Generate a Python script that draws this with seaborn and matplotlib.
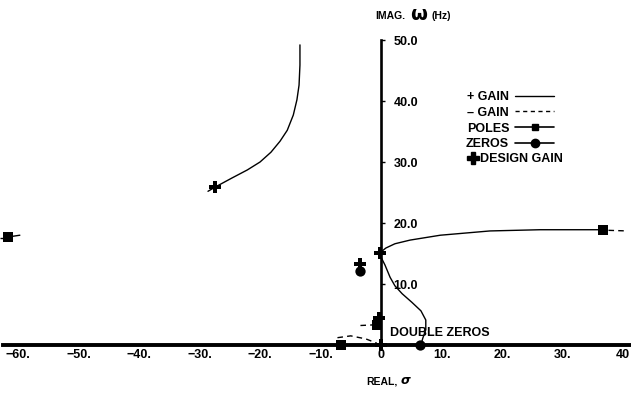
import matplotlib
matplotlib.use("Agg")
import matplotlib.pyplot as plt
import seaborn as sns
from matplotlib.lines import Line2D
from matplotlib.font_manager import FontProperties

# Root-locus branches: real part sigma, imaginary part omega (Hz)
upper_sigma = [-13.4, -13.4, -13.55, -13.9, -14.5, -15.5, -16.7, -18.2, -20.0,
               -22.1, -24.6, -27.4, -28.6]
upper_omega = [49.2, 45.9, 42.6, 40.2, 37.7, 35.2, 33.4, 31.6, 30.0,
               28.7, 27.4, 25.9, 25.2]

right_sigma = [-0.2, 0.8, 2.3, 4.8, 9.8, 18.0, 26.3, 36.7]
right_omega = [15.1, 15.9, 16.6, 17.2, 18.0, 18.7, 18.9, 18.9]

zero_branch_sigma = [-0.2, 0.66, 1.5, 2.3, 3.5, 5.1, 6.6, 7.4, 7.4, 6.9, 6.6]
zero_branch_omega = [14.8, 13.1, 11.1, 9.7, 8.4, 7.0, 5.6, 4.1, 2.5, 1.1, 0.0]

left_sigma = [-61.7, -59.7]
left_omega = [17.7, 18.0]

# Negative-gain branches
neg_right_sigma = [37.6, 40.8]
neg_right_omega = [18.8, 18.7]
neg_left_sigma = [-63.0, -62.4]
neg_left_omega = [17.6, 17.6]
neg_real_sigma = [-7.2, -5.0, -2.5, -0.7]
neg_real_omega = [1.2, 1.5, 1.0, 0.3]
neg_low_sigma = [-3.4, -1.2]
neg_low_omega = [3.2, 3.3]

# Poles, zeros and design-gain points
pole_sigma = [-61.7, 36.7, -6.6, -0.6]
pole_omega = [17.7, 18.9, 0.0, 3.3]
zero_sigma = [6.5, -3.5]
zero_omega = [0.0, 12.1]
design_sigma = [-27.4, -0.2, -3.5, -0.3, 0.0]
design_omega = [25.9, 15.1, 13.2, 4.4, 0.0]

x_ticks = [-60, -50, -40, -30, -20, -10, 0, 10, 20, 30, 40]
x_tick_labels = ["\u221260.", "\u221250.", "\u221240.", "\u221230.", "\u221220.",
                 "\u221210.", "0", "10.", "20.", "30.", "40"]
y_ticks = [10, 20, 30, 40, 50]
y_tick_labels = ["10.0", "20.0", "30.0", "40.0", "50.0"]

sns.set_theme(style="white")
plt.rcParams["font.family"] = ["Liberation Sans", "DejaVu Sans"]
plt.rcParams["font.weight"] = "bold"

W, H = 631, 399
fig = plt.figure(figsize=(W / 100, H / 100), dpi=100)
ax = fig.add_axes([0, 0, 1, 1])
ax.set_facecolor("white")
ax.set_xlim(-62.98, 41.32)
ax.set_ylim(-8.85, 56.56)

font = FontProperties(family=["Liberation Sans", "DejaVu Sans"],
                      weight="bold", size=9)

# axes through the origin
for side in ("left", "top"):
    ax.spines[side].set_visible(False)
ax.spines["right"].set_position(("data", 0))
ax.spines["bottom"].set_position(("data", 0))
ax.spines["right"].set_bounds(0, 50)
ax.spines["bottom"].set_bounds(-62.5, 41.3)
ax.spines["right"].set_linewidth(1.9)
ax.spines["bottom"].set_linewidth(2.8)
ax.spines["right"].set_color("black")
ax.spines["bottom"].set_color("black")
ax.yaxis.tick_right()
ax.set_xticks(x_ticks, x_tick_labels)
ax.set_yticks(y_ticks, y_tick_labels)
ax.tick_params(axis="x", length=0, pad=3)
ax.tick_params(axis="y", direction="out", length=3, width=1, pad=6, colors="black")
for lab in ax.get_xticklabels() + ax.get_yticklabels():
    lab.set_fontproperties(font)
    lab.set_color("black")

# positive-gain branches
for xs, ys in [(upper_sigma, upper_omega), (right_sigma, right_omega),
               (zero_branch_sigma, zero_branch_omega), (left_sigma, left_omega)]:
    sns.lineplot(x=xs, y=ys, sort=False, estimator=None, color="black",
                 lw=1.0, ax=ax)

# negative-gain branches
for xs, ys in [(neg_right_sigma, neg_right_omega), (neg_left_sigma, neg_left_omega),
               (neg_real_sigma, neg_real_omega), (neg_low_sigma, neg_low_omega)]:
    sns.lineplot(x=xs, y=ys, sort=False, estimator=None, color="black",
                 lw=1.0, linestyle=(0, (4, 3)), ax=ax)

sns.scatterplot(x=pole_sigma, y=pole_omega, marker="s", s=45, color="black",
                linewidth=0, ax=ax, zorder=5)
sns.scatterplot(x=zero_sigma, y=zero_omega, marker="o", s=55, color="black",
                linewidth=0, ax=ax, zorder=5)
sns.scatterplot(x=design_sigma, y=design_omega, marker="P", s=70, color="black",
                linewidth=0, ax=ax, zorder=6)

ax.text(1.5, 1.9, "DOUBLE ZEROS", fontproperties=font, color="black",
        ha="left", va="center")

# axis titles
small = FontProperties(family=["Liberation Sans", "DejaVu Sans"],
                       weight="bold", size=7.5)
fig.text(405 / W, 1 - 16 / H, "IMAG.", fontproperties=small, color="black",
         ha="right", va="center")
fig.text(419 / W, 1 - 15 / H, "\u03c9", fontsize=14, fontweight="bold",
         family="DejaVu Sans", color="black", ha="center", va="center")
fig.text(431 / W, 1 - 16 / H, "(Hz)", fontproperties=small, color="black",
         ha="left", va="center")
fig.text(398 / W, 1 - 381 / H, "REAL,", fontproperties=small, color="black",
         ha="right", va="center")
fig.text(401 / W, 1 - 381 / H, "\u03c3", fontsize=9, style="italic",
         family="DejaVu Sans", color="black", ha="left", va="center")

# legend
handles = [
    Line2D([], [], color="black", lw=1.0),
    Line2D([], [], color="black", lw=1.0, linestyle=(0, (3, 2.5))),
    Line2D([], [], color="black", lw=1.2, marker="s", ms=5),
    Line2D([], [], color="black", lw=1.2, marker="o", ms=6),
]
labels = ["+ GAIN", "\u2013 GAIN", "POLES", "ZEROS"]
leg1 = ax.legend(handles, labels, loc="upper left",
                 bbox_to_anchor=(466 / W, 1 - 91 / H), markerfirst=False,
                 frameon=False, prop=font, handlelength=3.1, handletextpad=0.5,
                 labelspacing=0.3, borderpad=0, borderaxespad=0)
for t in leg1.get_texts():
    t.set_color("black")
ax.add_artist(leg1)
leg2 = ax.legend([Line2D([], [], color="black", lw=0, marker="P", ms=8)],
                 ["DESIGN GAIN"], loc="upper left",
                 bbox_to_anchor=(468 / W, 1 - 153 / H), markerfirst=True,
                 frameon=False, prop=font, handlelength=0.8, handletextpad=0.2,
                 borderpad=0, borderaxespad=0)
for t in leg2.get_texts():
    t.set_color("black")

fig.savefig("out.png", dpi=100)
